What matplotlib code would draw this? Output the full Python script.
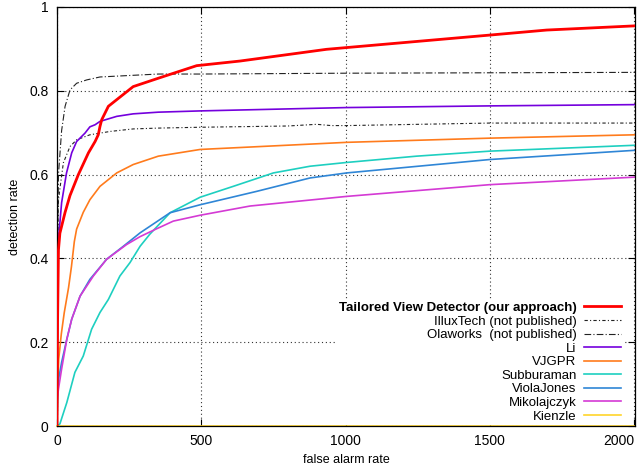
import matplotlib
matplotlib.use('Agg')
import matplotlib.pyplot as plt

plt.rcParams['font.family'] = ['Liberation Sans', 'DejaVu Sans']

# ROC-like curves
tailored_x = [0, 2, 5, 10, 28, 45, 74, 109, 132, 143, 149, 155, 178, 264, 351, 484, 634, 934, 1500, 1697, 2003]
tailored_y = [0, 0.25, 0.42, 0.46, 0.51, 0.55, 0.60, 0.652, 0.679, 0.695, 0.715, 0.731, 0.763, 0.81, 0.83, 0.86, 0.871, 0.899, 0.933, 0.945, 0.955]

illux_x = [0, 1, 3, 5, 22, 45, 68, 114, 184, 264, 351, 496, 800, 900, 950, 1004, 1500, 2003]
illux_y = [0, 0.3, 0.45, 0.54, 0.628, 0.667, 0.683, 0.695, 0.703, 0.709, 0.711, 0.713, 0.716, 0.72, 0.717, 0.717, 0.723, 0.723]

ola_x = [0, 1, 3, 5, 16, 28, 45, 68, 103, 149, 264, 351, 496, 1000, 2003]
ola_y = [0, 0.3, 0.5, 0.6, 0.705, 0.763, 0.802, 0.818, 0.826, 0.833, 0.837, 0.84, 0.84, 0.842, 0.844]

li_x = [0, 1, 3, 5, 16, 33, 51, 68, 97, 114, 132, 149, 207, 264, 351, 496, 1004, 1500, 2003]
li_y = [0, 0.2, 0.35, 0.445, 0.533, 0.604, 0.652, 0.679, 0.699, 0.714, 0.719, 0.727, 0.739, 0.745, 0.749, 0.752, 0.76, 0.764, 0.767]

vjgpr_x = [0, 2, 6, 15, 25, 40, 50, 60, 68, 91, 114, 149, 207, 264, 351, 496, 1004, 1500, 2003]
vjgpr_y = [0, 0.09, 0.16, 0.22, 0.27, 0.33, 0.38, 0.44, 0.47, 0.51, 0.54, 0.572, 0.604, 0.624, 0.644, 0.66, 0.677, 0.687, 0.695]

subb_x = [0, 10, 34, 62, 91, 120, 149, 178, 218, 253, 288, 322, 392, 496, 611, 750, 877, 1004, 1246, 1500, 2003]
subb_y = [0, 0.005, 0.056, 0.128, 0.167, 0.231, 0.271, 0.302, 0.358, 0.39, 0.429, 0.458, 0.509, 0.546, 0.572, 0.604, 0.62, 0.629, 0.644, 0.656, 0.67]

viola_x = [0, 2, 5, 16, 34, 51, 80, 114, 172, 230, 288, 392, 496, 692, 877, 1004, 1500, 2003]
viola_y = [0, 0.08, 0.11, 0.152, 0.207, 0.255, 0.31, 0.35, 0.398, 0.429, 0.461, 0.509, 0.528, 0.56, 0.592, 0.604, 0.636, 0.658]

miko_x = [0, 1, 5, 16, 34, 51, 80, 126, 172, 241, 288, 340, 403, 496, 669, 1004, 1500, 2003]
miko_y = [0, 0.064, 0.088, 0.136, 0.207, 0.255, 0.31, 0.358, 0.398, 0.433, 0.452, 0.469, 0.489, 0.503, 0.525, 0.548, 0.576, 0.594]

kienzle_x = [0, 2003]
kienzle_y = [0, 0]

fig = plt.figure(figsize=(6.4, 4.67), dpi=100)
ax = fig.add_axes([57/640, 1 - 426/467, 578/640, 419/467])

ax.plot(tailored_x, tailored_y, color='#ff0000', lw=2.0, label='Tailored View Detector (our approach)', zorder=10)
ax.plot(illux_x, illux_y, color='#222222', lw=0.8, ls=(0, (3, 2, 1, 2)), label='IlluxTech (not published)')
ax.plot(ola_x, ola_y, color='#222222', lw=0.8, ls=(0, (6, 2, 1, 2)), label='Olaworks  (not published)')
ax.plot(li_x, li_y, color='#7400dd', lw=1.2, label='Li')
ax.plot(vjgpr_x, vjgpr_y, color='#ff7b1c', lw=1.2, label='VJGPR')
ax.plot(subb_x, subb_y, color='#1ecfc0', lw=1.2, label='Subburaman')
ax.plot(viola_x, viola_y, color='#2f86d6', lw=1.2, label='ViolaJones')
ax.plot(miko_x, miko_y, color='#d43ad4', lw=1.2, label='Mikolajczyk')
ax.plot(kienzle_x, kienzle_y, color='#ffd42a', lw=1.2, label='Kienzle', clip_on=False)

ax.set_xlim(0, 2003)
ax.set_ylim(0, 1)
ax.set_xticks([0, 500, 1000, 1500, 2000])
ax.set_yticks([0, 0.2, 0.4, 0.6, 0.8, 1])
ax.set_yticklabels(['0', '0.2', '0.4', '0.6', '0.8', '1'])
ax.tick_params(direction='in', top=True, right=True, length=5, width=0.8, labelsize=10, pad=6)
ax.get_xticklabels()[-1].set_horizontalalignment('right')
ax.grid(True, color='#333333', ls=(0, (1, 2.5)), lw=0.8)
for s in ax.spines.values():
    s.set_linewidth(0.9)

ax.set_xlabel('false alarm rate', fontsize=9, labelpad=4)
ax.set_ylabel('detection rate', fontsize=9, labelpad=6)

leg = ax.legend(loc='lower right', bbox_to_anchor=(0.981, 0.002), borderaxespad=0,
                markerfirst=False, fontsize=9.5, frameon=True, fancybox=False,
                framealpha=1, edgecolor='none', facecolor='white', handlelength=2.8,
                labelspacing=0.1, borderpad=0.2, handletextpad=0.6)
leg.get_texts()[0].set_fontweight('bold')
leg.set_zorder(20)

fig.savefig('out.png', dpi=100)
